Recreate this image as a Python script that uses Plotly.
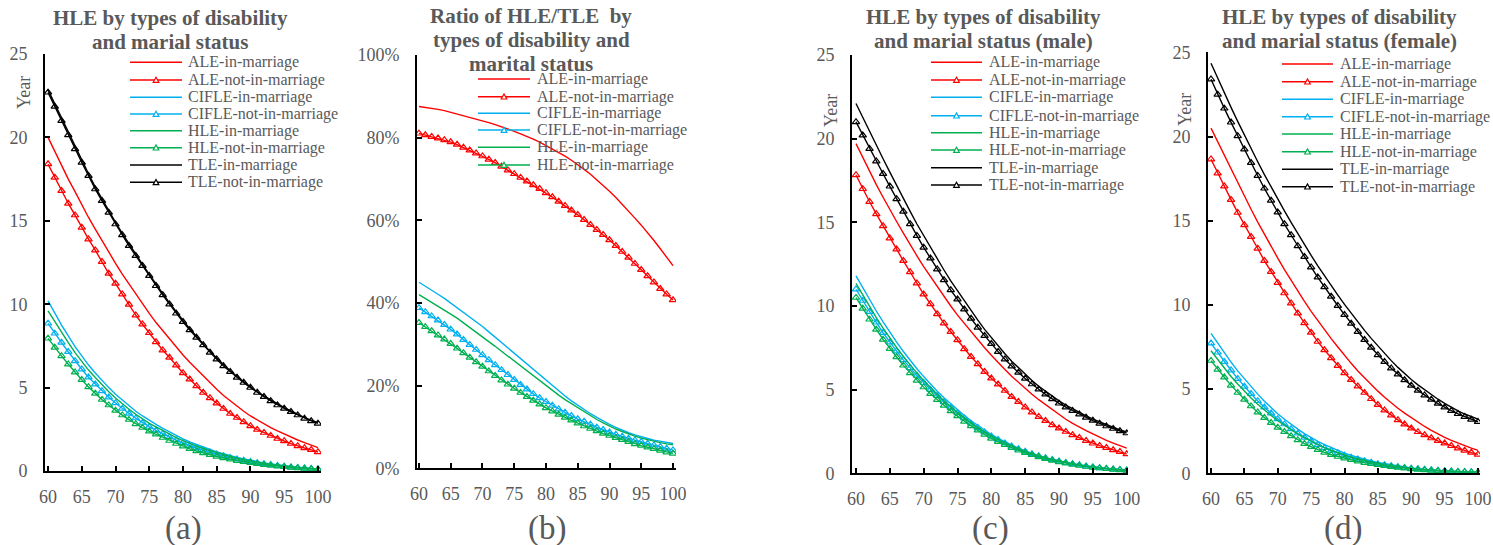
import plotly.graph_objects as go

AGES = list(range(60, 101))
X_TICKS = [60, 65, 70, 75, 80, 85, 90, 95, 100]
PCT_TICKS = [0, 20, 40, 60, 80, 100]
PCT_LABELS = ["0%", "20%", "40%", "60%", "80%", "100%"]

NAMES = ["ALE-in-marriage", "ALE-not-in-marriage", "CIFLE-in-marriage", "CIFLE-not-in-marriage",
         "HLE-in-marriage", "HLE-not-in-marriage", "TLE-in-marriage", "TLE-not-in-marriage"]
COLORS = ["#FF0000", "#FF0000", "#00B0F0", "#00B0F0", "#00B050", "#00B050", "#000000", "#000000"]

TITLES = [
    ["HLE by types of disability", "and marial status"],
    ["Ratio of HLE/TLE\u00a0 by", "types of disability and", "marital status"],
    ["HLE by types of disability", "and marial status (male)"],
    ["HLE by types of disability", "and marial status (female)"],
]
PANEL_LABELS = ["(a)", "(b)", "(c)", "(d)"]

# ---- panel (a): all ----
a_ale_in = [20.0, 19.15, 18.3, 17.5, 16.75, 15.95, 15.2, 14.5, 13.8, 13.1, 12.45, 11.8, 11.2, 10.6, 10.0, 9.45, 8.9, 8.4, 7.9, 7.4, 6.95, 6.52, 6.1, 5.68, 5.28, 4.9, 4.53, 4.2, 3.88, 3.58, 3.3, 3.05, 2.82, 2.6, 2.4, 2.21, 2.03, 1.86, 1.7, 1.55, 1.4]
a_ale_not = [18.4, 17.6, 16.8, 16.04, 15.34, 14.6, 13.9, 13.24, 12.54, 11.84, 11.24, 10.6, 9.98, 9.34, 8.8, 8.28, 7.74, 7.24, 6.8, 6.34, 5.88, 5.5, 5.1, 4.7, 4.38, 4.06, 3.74, 3.44, 3.2, 2.94, 2.7, 2.48, 2.3, 2.12, 1.94, 1.8, 1.64, 1.5, 1.38, 1.27, 1.14]
a_cif_in = [10.2, 9.45, 8.75, 8.1, 7.45, 6.9, 6.35, 5.88, 5.42, 5.0, 4.6, 4.25, 3.9, 3.58, 3.3, 3.03, 2.8, 2.55, 2.33, 2.13, 1.92, 1.74, 1.58, 1.43, 1.29, 1.15, 1.03, 0.92, 0.82, 0.73, 0.64, 0.56, 0.49, 0.43, 0.37, 0.32, 0.27, 0.23, 0.19, 0.16, 0.13]
a_cif_not = [8.85, 8.25, 7.7, 7.15, 6.6, 6.1, 5.62, 5.2, 4.8, 4.42, 4.08, 3.75, 3.45, 3.17, 2.9, 2.66, 2.44, 2.23, 2.03, 1.85, 1.68, 1.52, 1.38, 1.25, 1.12, 1.0, 0.9, 0.8, 0.71, 0.63, 0.55, 0.48, 0.42, 0.37, 0.32, 0.27, 0.23, 0.19, 0.16, 0.13, 0.1]
a_hle_in = [9.6, 8.95, 8.3, 7.7, 7.1, 6.55, 6.05, 5.6, 5.15, 4.75, 4.38, 4.02, 3.7, 3.4, 3.12, 2.86, 2.64, 2.42, 2.2, 2.0, 1.82, 1.64, 1.49, 1.35, 1.22, 1.09, 0.97, 0.87, 0.77, 0.68, 0.6, 0.53, 0.46, 0.4, 0.35, 0.3, 0.25, 0.21, 0.18, 0.15, 0.12]
a_hle_not = [7.95, 7.4, 6.9, 6.4, 5.92, 5.47, 5.04, 4.65, 4.28, 3.95, 3.63, 3.35, 3.08, 2.82, 2.6, 2.38, 2.2, 2.0, 1.82, 1.64, 1.48, 1.33, 1.2, 1.08, 0.97, 0.87, 0.78, 0.7, 0.62, 0.55, 0.49, 0.43, 0.38, 0.33, 0.29, 0.25, 0.21, 0.18, 0.15, 0.12, 0.1]
a_tle_in = [22.85, 22.0, 21.15, 20.3, 19.45, 18.62, 17.82, 17.02, 16.3, 15.6, 14.9, 14.25, 13.6, 12.98, 12.38, 11.78, 11.18, 10.63, 10.08, 9.53, 9.03, 8.53, 8.07, 7.62, 7.17, 6.77, 6.37, 6.01, 5.66, 5.35, 5.05, 4.75, 4.5, 4.25, 4.0, 3.8, 3.6, 3.4, 3.2, 3.05, 2.9]
a_tle_not = [22.7, 21.85, 21.0, 20.15, 19.3, 18.5, 17.7, 16.9, 16.2, 15.5, 14.8, 14.15, 13.5, 12.9, 12.3, 11.7, 11.1, 10.55, 10.0, 9.45, 8.95, 8.45, 8.0, 7.55, 7.1, 6.7, 6.3, 5.95, 5.6, 5.3, 5.0, 4.7, 4.45, 4.2, 3.95, 3.75, 3.55, 3.35, 3.15, 3.0, 2.85]

# ---- panel (b): ratio HLE/TLE, percent ----
b_ale_in = [87.5, 87.3, 87.0, 86.8, 86.5, 86.1, 85.7, 85.3, 84.9, 84.5, 84.1, 83.6, 83.1, 82.6, 82.1, 81.5, 80.9, 80.3, 79.6, 78.9, 78.1, 77.3, 76.4, 75.5, 74.5, 73.5, 72.3, 71.1, 69.8, 68.4, 67.0, 65.5, 63.9, 62.2, 60.5, 58.8, 57.0, 55.1, 53.1, 51.1, 49.0]
b_ale_not = [81.0, 80.6, 80.2, 79.8, 79.4, 78.9, 78.3, 77.6, 76.9, 76.2, 75.5, 74.7, 73.9, 73.0, 72.1, 71.2, 70.3, 69.4, 68.5, 67.6, 66.6, 65.6, 64.5, 63.5, 62.4, 61.3, 60.1, 58.9, 57.7, 56.5, 55.2, 53.8, 52.4, 51.0, 49.5, 48.0, 46.5, 45.0, 43.4, 42.1, 40.7]
b_cif_in = [45.0, 44.1, 43.1, 42.1, 41.1, 40.0, 38.9, 37.8, 36.7, 35.5, 34.3, 33.0, 31.7, 30.4, 29.1, 27.8, 26.5, 25.1, 23.8, 22.5, 21.2, 19.9, 18.7, 17.5, 16.3, 15.2, 14.2, 13.2, 12.3, 11.4, 10.6, 9.9, 9.2, 8.6, 8.1, 7.6, 7.2, 6.8, 6.5, 6.2, 6.0]
b_cif_not = [38.8, 37.8, 36.8, 35.8, 34.7, 33.6, 32.4, 31.1, 29.9, 28.7, 27.4, 26.2, 25.0, 23.8, 22.6, 21.4, 20.2, 19.1, 18.0, 17.0, 16.1, 15.2, 14.3, 13.5, 12.7, 11.9, 11.3, 10.6, 9.9, 9.3, 8.7, 8.2, 7.7, 7.2, 6.8, 6.4, 6.0, 5.6, 5.2, 4.8, 4.4]
b_hle_in = [42.0, 41.1, 40.2, 39.3, 38.3, 37.3, 36.3, 35.2, 34.1, 33.0, 31.9, 30.7, 29.5, 28.3, 27.1, 25.9, 24.7, 23.5, 22.3, 21.1, 19.9, 18.8, 17.7, 16.6, 15.6, 14.6, 13.6, 12.7, 11.8, 11.0, 10.2, 9.5, 8.9, 8.3, 7.8, 7.3, 6.9, 6.5, 6.2, 5.9, 5.7]
b_hle_not = [35.2, 34.2, 33.2, 32.2, 31.2, 30.1, 29.0, 27.9, 26.8, 25.7, 24.6, 23.5, 22.4, 21.3, 20.3, 19.3, 18.3, 17.3, 16.4, 15.5, 14.6, 13.8, 13.0, 12.3, 11.6, 10.9, 10.2, 9.6, 9.0, 8.4, 7.9, 7.4, 6.9, 6.4, 5.9, 5.5, 5.1, 4.7, 4.3, 3.9, 3.6]

# ---- panel (c): male ----
c_ale_in = [19.7, 18.85, 18.05, 17.25, 16.5, 15.75, 15.05, 14.35, 13.65, 13.0, 12.35, 11.75, 11.15, 10.55, 10.0, 9.45, 8.95, 8.45, 7.95, 7.5, 7.05, 6.6, 6.2, 5.8, 5.42, 5.07, 4.72, 4.4, 4.1, 3.82, 3.5, 3.23, 2.98, 2.75, 2.55, 2.35, 2.15, 1.97, 1.8, 1.65, 1.5]
c_ale_not = [17.83, 17.0, 16.23, 15.5, 14.78, 14.05, 13.39, 12.7, 12.03, 11.36, 10.7, 10.12, 9.52, 8.97, 8.46, 7.97, 7.43, 6.97, 6.53, 6.07, 5.68, 5.32, 4.94, 4.58, 4.28, 3.95, 3.65, 3.38, 3.14, 2.89, 2.69, 2.49, 2.29, 2.13, 1.95, 1.79, 1.65, 1.53, 1.39, 1.29, 1.15]
c_cif_in = [11.8, 11.08, 10.37, 9.7, 9.05, 8.43, 7.84, 7.28, 6.75, 6.25, 5.78, 5.33, 4.91, 4.51, 4.14, 3.79, 3.46, 3.14, 2.85, 2.57, 2.32, 2.09, 1.88, 1.68, 1.5, 1.34, 1.19, 1.06, 0.94, 0.83, 0.74, 0.65, 0.57, 0.5, 0.44, 0.38, 0.33, 0.29, 0.25, 0.22, 0.19]
c_cif_not = [11.0, 10.32, 9.65, 9.02, 8.4, 7.83, 7.3, 6.78, 6.3, 5.84, 5.42, 5.0, 4.63, 4.26, 3.92, 3.6, 3.29, 2.98, 2.72, 2.46, 2.21, 2.0, 1.8, 1.62, 1.45, 1.3, 1.16, 1.03, 0.92, 0.81, 0.72, 0.63, 0.56, 0.49, 0.42, 0.37, 0.32, 0.28, 0.24, 0.21, 0.18]
c_hle_in = [11.35, 10.65, 9.95, 9.3, 8.68, 8.08, 7.52, 6.98, 6.47, 5.99, 5.55, 5.12, 4.72, 4.34, 3.98, 3.65, 3.33, 3.02, 2.74, 2.48, 2.24, 2.02, 1.82, 1.63, 1.46, 1.31, 1.17, 1.04, 0.92, 0.81, 0.72, 0.63, 0.56, 0.49, 0.43, 0.37, 0.32, 0.28, 0.24, 0.21, 0.18]
c_hle_not = [10.5, 9.85, 9.2, 8.6, 8.0, 7.45, 6.95, 6.45, 6.0, 5.55, 5.15, 4.75, 4.4, 4.05, 3.72, 3.42, 3.1, 2.83, 2.57, 2.32, 2.08, 1.88, 1.7, 1.53, 1.37, 1.23, 1.1, 0.98, 0.87, 0.77, 0.68, 0.6, 0.53, 0.46, 0.4, 0.35, 0.31, 0.27, 0.23, 0.2, 0.17]
c_tle_in = [22.1, 21.25, 20.4, 19.6, 18.8, 18.0, 17.2, 16.4, 15.65, 14.9, 14.2, 13.5, 12.8, 12.15, 11.5, 10.9, 10.3, 9.7, 9.15, 8.6, 8.1, 7.6, 7.15, 6.7, 6.3, 5.9, 5.55, 5.2, 4.9, 4.6, 4.33, 4.08, 3.85, 3.63, 3.43, 3.24, 3.07, 2.9, 2.75, 2.6, 2.48]
c_tle_not = [21.0, 20.2, 19.4, 18.65, 17.9, 17.15, 16.4, 15.65, 14.9, 14.2, 13.5, 12.85, 12.2, 11.55, 10.95, 10.4, 9.8, 9.25, 8.72, 8.22, 7.74, 7.27, 6.82, 6.4, 6.02, 5.67, 5.33, 5.02, 4.72, 4.44, 4.18, 3.95, 3.74, 3.53, 3.33, 3.15, 2.98, 2.82, 2.67, 2.53, 2.4]

# ---- panel (d): female ----
d_ale_in = [20.5, 19.68, 18.86, 18.05, 17.25, 16.45, 15.68, 14.92, 14.18, 13.47, 12.78, 12.1, 11.45, 10.82, 10.21, 9.62, 9.06, 8.52, 8.0, 7.5, 7.0, 6.53, 6.08, 5.66, 5.26, 4.88, 4.52, 4.17, 3.86, 3.57, 3.3, 3.03, 2.78, 2.55, 2.33, 2.13, 1.95, 1.79, 1.63, 1.49, 1.36]
d_ale_not = [18.65, 17.82, 17.05, 16.25, 15.48, 14.74, 14.05, 13.35, 12.62, 11.97, 11.32, 10.7, 10.1, 9.5, 8.92, 8.36, 7.82, 7.32, 6.85, 6.39, 5.96, 5.55, 5.17, 4.79, 4.42, 4.07, 3.75, 3.45, 3.17, 2.91, 2.67, 2.46, 2.27, 2.09, 1.93, 1.78, 1.63, 1.49, 1.36, 1.23, 1.12]
d_cif_in = [8.31, 7.72, 7.15, 6.6, 6.08, 5.6, 5.15, 4.7, 4.28, 3.9, 3.54, 3.21, 2.9, 2.62, 2.36, 2.12, 1.9, 1.7, 1.52, 1.35, 1.2, 1.06, 0.94, 0.83, 0.73, 0.64, 0.57, 0.5, 0.43, 0.37, 0.32, 0.27, 0.23, 0.2, 0.17, 0.14, 0.12, 0.1, 0.09, 0.07, 0.06]
d_cif_not = [7.72, 7.18, 6.62, 6.12, 5.62, 5.15, 4.72, 4.3, 3.92, 3.56, 3.23, 2.92, 2.63, 2.37, 2.13, 1.9, 1.7, 1.52, 1.35, 1.2, 1.06, 0.94, 0.83, 0.73, 0.64, 0.56, 0.49, 0.43, 0.38, 0.33, 0.29, 0.25, 0.22, 0.19, 0.16, 0.14, 0.12, 0.1, 0.09, 0.08, 0.07]
d_hle_in = [7.28, 6.75, 6.24, 5.75, 5.3, 4.87, 4.47, 4.1, 3.75, 3.43, 3.12, 2.84, 2.58, 2.33, 2.11, 1.9, 1.71, 1.53, 1.37, 1.22, 1.08, 0.96, 0.85, 0.75, 0.66, 0.58, 0.5, 0.44, 0.38, 0.33, 0.29, 0.25, 0.21, 0.18, 0.16, 0.13, 0.11, 0.1, 0.08, 0.07, 0.06]
d_hle_not = [6.69, 6.17, 5.7, 5.22, 4.79, 4.38, 3.99, 3.63, 3.3, 3.0, 2.72, 2.47, 2.21, 1.98, 1.76, 1.58, 1.4, 1.24, 1.1, 0.99, 0.89, 0.8, 0.71, 0.63, 0.56, 0.5, 0.44, 0.39, 0.34, 0.3, 0.26, 0.23, 0.2, 0.17, 0.15, 0.13, 0.11, 0.09, 0.08, 0.07, 0.06]
d_tle_in = [24.35, 23.45, 22.58, 21.73, 20.9, 20.08, 19.28, 18.5, 17.74, 17.0, 16.28, 15.58, 14.9, 14.23, 13.58, 12.94, 12.32, 11.72, 11.14, 10.58, 10.03, 9.5, 8.99, 8.49, 8.01, 7.55, 7.11, 6.69, 6.29, 5.91, 5.57, 5.25, 4.95, 4.67, 4.4, 4.15, 3.92, 3.71, 3.52, 3.36, 3.22]
d_tle_not = [23.4, 22.5, 21.67, 20.84, 20.03, 19.24, 18.44, 17.67, 16.92, 16.2, 15.5, 14.8, 14.15, 13.5, 12.86, 12.24, 11.64, 11.06, 10.5, 9.95, 9.42, 8.9, 8.41, 7.93, 7.47, 7.03, 6.63, 6.24, 5.88, 5.54, 5.22, 4.92, 4.64, 4.38, 4.14, 3.92, 3.72, 3.53, 3.36, 3.2, 3.06]

PANEL_SERIES = [
    [a_ale_in, a_ale_not, a_cif_in, a_cif_not, a_hle_in, a_hle_not, a_tle_in, a_tle_not],
    [b_ale_in, b_ale_not, b_cif_in, b_cif_not, b_hle_in, b_hle_not],
    [c_ale_in, c_ale_not, c_cif_in, c_cif_not, c_hle_in, c_hle_not, c_tle_in, c_tle_not],
    [d_ale_in, d_ale_not, d_cif_in, d_cif_not, d_hle_in, d_hle_not, d_tle_in, d_tle_not],
]

# ---------------- layout (pixel based) ----------------
W, H = 1493, 545
def px(x):
    return x / W
def py(y):
    return 1 - y / H

FONT = "Liberation Serif, Times New Roman, serif"
GRAY = "#595959"

BOXES = [(45, 321, 54, 471), (417, 676, 54.8, 468.3), (852, 1128, 55, 473.3), (1208, 1480, 52.3, 473.3)]
XRANGES = [[59.55, 100.45], [59.69, 100.47], [59.41, 100.19], [59.55, 100.3]]
YRANGES = [[0, 25], [0, 100], [0, 25], [0, 25]]

fig = go.Figure()

for p, series in enumerate(PANEL_SERIES):
    xa = "x" if p == 0 else f"x{p+1}"
    ya = "y" if p == 0 else f"y{p+1}"
    for i, vals in enumerate(series):
        is_not = (i % 2 == 1)
        fig.add_trace(go.Scatter(
            x=AGES, y=vals, xaxis=xa, yaxis=ya, name=NAMES[i], showlegend=False,
            mode="lines+markers" if is_not else "lines",
            line=dict(color=COLORS[i], width=1.4),
            marker=dict(symbol="triangle-up-open", size=6.5, color=COLORS[i], line=dict(width=1.2, color=COLORS[i])),
            hoverinfo="skip",
        ))

axis_common = dict(showline=True, linecolor="black", linewidth=2, ticks="inside", ticklen=5,
                   tickwidth=1.5, tickcolor="black", showgrid=False, zeroline=False, automargin=False,
                   tickfont=dict(family=FONT, size=18, color=GRAY))
layout = {}
for p in range(4):
    l, r, t, b = BOXES[p]
    xk = "xaxis" if p == 0 else f"xaxis{p+1}"
    yk = "yaxis" if p == 0 else f"yaxis{p+1}"
    yname = "y" if p == 0 else f"y{p+1}"
    xname = "x" if p == 0 else f"x{p+1}"
    layout[xk] = dict(axis_common, domain=[px(l), px(r)], range=XRANGES[p], anchor=yname,
                      tickmode="array", tickvals=X_TICKS, ticklabelstandoff=8)
    ydict = dict(axis_common, domain=[py(b), py(t)], range=YRANGES[p], anchor=xname,
                 ticklabelstandoff=12)
    if p == 1:
        ydict.update(tickmode="array", tickvals=PCT_TICKS, ticktext=PCT_LABELS)
    else:
        ydict.update(tickmode="array", tickvals=[0, 5, 10, 15, 20, 25])
    layout[yk] = ydict

annotations = []
shapes = []

TITLE_X = [170, 531, 983, 1339]
TITLE_Y = [[18, 42], [16, 40, 64], [17, 41], [17, 41]]
for p in range(4):
    for line, yy in zip(TITLES[p], TITLE_Y[p]):
        annotations.append(dict(text=f"<b>{line}</b>", x=px(TITLE_X[p]), y=py(yy), xref="paper", yref="paper",
                                xanchor="center", yanchor="middle", showarrow=False,
                                font=dict(family=FONT, size=21, color=GRAY)))

LABEL_X = [183, 547, 990, 1343]
for p in range(4):
    annotations.append(dict(text=PANEL_LABELS[p], x=px(LABEL_X[p]), y=py(528), xref="paper", yref="paper",
                            xanchor="center", yanchor="middle", showarrow=False,
                            font=dict(family=FONT, size=33, color=GRAY)))

for (xx, yy) in [(24, 92), (831, 111), (1185, 110)]:
    annotations.append(dict(text="Year", x=px(xx), y=py(yy), xref="paper", yref="paper", textangle=-90,
                            xanchor="center", yanchor="middle", showarrow=False,
                            font=dict(family=FONT, size=18, color=GRAY)))

LEG = [
    (130, 182, 187, [62.3, 80, 97.3, 114, 130.7, 147.7, 165, 182.3]),
    (478, 530, 536, [79, 96.7, 113.3, 130, 147.3, 165]),
    (931, 982, 988, [62.3, 80, 97.3, 115.7, 132.7, 150, 167.7, 185]),
    (1282, 1333, 1339, [64, 81.7, 99.3, 116.7, 134, 151.7, 169.3, 186.7]),
]
for p, (x1, x2, xt, ys) in enumerate(LEG):
    for i, yy in enumerate(ys):
        col = COLORS[i]
        shapes.append(dict(type="line", xref="paper", yref="paper", x0=px(x1), x1=px(x2), y0=py(yy), y1=py(yy),
                           line=dict(color=col, width=1.6)))
        if i % 2 == 1:
            cx = (x1 + x2) / 2
            path = (f"M {px(cx-2.8)},{py(yy+2.3)} L {px(cx+2.8)},{py(yy+2.3)} "
                    f"L {px(cx)},{py(yy-2.8)} Z")
            shapes.append(dict(type="path", xref="paper", yref="paper", path=path,
                               fillcolor="white", line=dict(color=col, width=1.2)))
        annotations.append(dict(text=NAMES[i], x=px(xt - 1), y=py(yy), xref="paper", yref="paper",
                                xanchor="left", yanchor="middle", showarrow=False,
                                font=dict(family=FONT, size=16, color=GRAY)))

fig.update_layout(
    template="none",
    width=W, height=H, margin=dict(l=0, r=0, t=0, b=0, pad=0, autoexpand=False),
    paper_bgcolor="white", plot_bgcolor="white",
    showlegend=False, annotations=annotations, shapes=shapes,
    **layout,
)

fig.write_html("out.html", config={"displayModeBar": False},
               post_script="document.body.style.margin='0';document.body.style.overflow='hidden';")
